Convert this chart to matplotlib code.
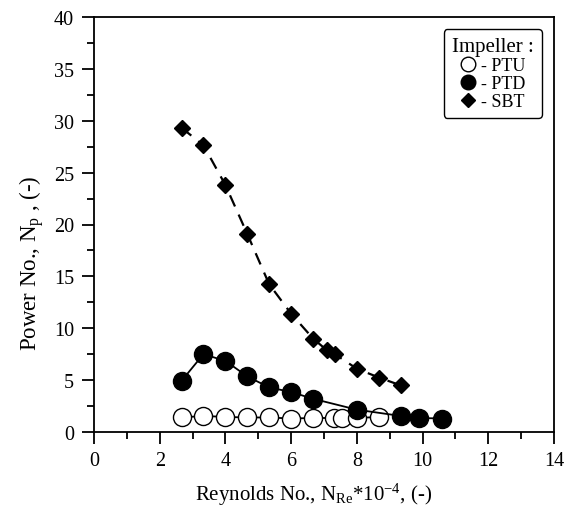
import matplotlib
matplotlib.use("Agg")
import matplotlib.pyplot as plt
from matplotlib.lines import Line2D
from matplotlib.ticker import MultipleLocator

plt.rcParams['font.family'] = ['Liberation Serif', 'DejaVu Serif']
plt.rcParams['mathtext.fontset'] = 'custom'
plt.rcParams['mathtext.rm'] = 'Liberation Serif'
plt.rcParams['mathtext.it'] = 'Liberation Serif:italic'

# Data (Reynolds No. * 1e-4, Power No.)
ptu_re = [2.67, 3.33, 4.0, 4.67, 5.33, 6.0, 6.67, 7.3, 7.55, 8.0, 8.67]
ptu_np = [1.4, 1.55, 1.45, 1.4, 1.4, 1.3, 1.35, 1.35, 1.35, 1.35, 1.45]

ptd_re = [2.67, 3.33, 4.0, 4.67, 5.33, 6.0, 6.67, 8.0, 9.33, 9.9, 10.6]
ptd_np = [4.95, 7.5, 6.85, 5.35, 4.3, 3.85, 3.2, 2.15, 1.55, 1.35, 1.3]

sbt_re = [2.67, 3.33, 4.0, 4.67, 5.33, 6.0, 6.67, 7.08, 7.33, 8.0, 8.67, 9.33]
sbt_np = [29.3, 27.65, 23.8, 19.05, 14.25, 11.4, 9.0, 7.9, 7.5, 6.1, 5.25, 4.5]

legend_title = "Impeller :"
legend_labels = ["- PTU", "- PTD", "- SBT"]

fig = plt.figure(figsize=(5.65, 5.10), dpi=100)
ax = fig.add_axes([94/565, 77/510, (554-94)/565, (433-18)/510])

ax.plot(sbt_re, sbt_np, color='black', lw=1.6, ls=(0, (5.5, 4)), marker='D',
        ms=8.5, mfc='black', mec='black', zorder=3)
ax.plot(ptd_re, ptd_np, color='black', lw=1.3, ls='-', marker='o',
        ms=13, mfc='black', mec='black', zorder=3)
ax.plot(ptu_re, ptu_np, color='black', lw=1.3, ls='-', marker='o',
        ms=13, mfc='white', mec='black', mew=1.0, zorder=2)

ax.set_xlim(0, 14)
ax.set_ylim(0, 40)
ax.xaxis.set_major_locator(MultipleLocator(2))
ax.xaxis.set_minor_locator(MultipleLocator(1))
ax.yaxis.set_major_locator(MultipleLocator(5))
ax.yaxis.set_minor_locator(MultipleLocator(2.5))
ax.tick_params(which='major', direction='out', length=8.5, width=1.3, labelsize=14.5,
               top=False, right=False)
ax.tick_params(axis='x', which='major', pad=5)
ax.tick_params(axis='y', which='major', pad=6)
ax.tick_params(which='minor', direction='out', length=5, width=1.3, top=False, right=False)
for s in ax.spines.values():
    s.set_linewidth(1.3)

ax.set_xlabel(r"Reynolds No., N$_{\mathrm{Re}}$*10$^{\mathrm{-4}}$, (-)", fontsize=15)
ax.set_ylabel(r"Power No., N$_{\mathrm{p}}$ , (-)", fontsize=16.5)
ax.xaxis.set_label_coords(0.478, -0.118)
ax.yaxis.set_label_coords(-0.105, 0.41)

handles = [
    Line2D([], [], ls='none', marker='o', ms=10.5, mfc='white', mec='black'),
    Line2D([], [], ls='none', marker='o', ms=10.5, mfc='black', mec='black'),
    Line2D([], [], ls='none', marker='D', ms=7.5, mfc='black', mec='black'),
]
leg = ax.legend(handles, legend_labels, title=legend_title, loc='upper right',
                bbox_to_anchor=((542-94)/460, (433-30)/415), fontsize=13, title_fontsize=15,
                frameon=True, fancybox=True, edgecolor='black', framealpha=1,
                handlelength=0.8, handletextpad=0.3, labelspacing=0.05,
                borderpad=0.45, borderaxespad=0, alignment='center')
leg.get_frame().set_linewidth(1.0)

fig.savefig("out.png", dpi=100)
